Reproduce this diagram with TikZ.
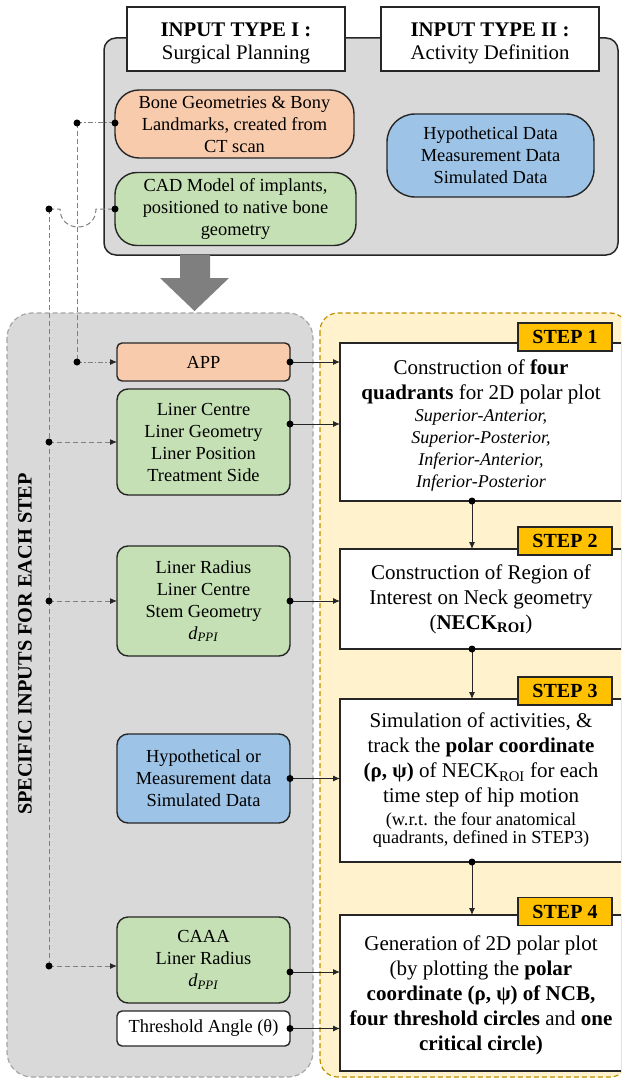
\documentclass[tikz,border=0pt]{standalone}
\usepackage{fontspec}
\setmainfont{Liberation Serif}
\usetikzlibrary{arrows.meta,calc}
\definecolor{corange}{HTML}{F8CBAD}
\definecolor{cgreen}{HTML}{C5E0B4}
\definecolor{cblue}{HTML}{9DC3E6}
\definecolor{boxgrey}{HTML}{D9D9D9}
\definecolor{cyellow}{HTML}{FFF2CC}
\definecolor{cstep}{HTML}{FFC000}
\definecolor{cgold}{HTML}{BF9000}
\definecolor{cline}{HTML}{808080}
\definecolor{cdark}{HTML}{7F7F7F}
\definecolor{cborder}{HTML}{A6A6A6}
\definecolor{cink}{HTML}{262626}
\newcommand\fL{\fontsize{18.4}{22}\selectfont}
\newcommand\fS{\fontsize{21}{25}\selectfont}
\newcommand\fH{\fontsize{20.8}{23}\selectfont}
\newcommand\fT{\fontsize{20}{24}\selectfont}
\newcommand\fR{\fontsize{20.3}{24}\selectfont}
\newcommand\fI{\fontsize{18}{22}\selectfont}
\newcommand\fQ{\fontsize{18.3}{18}\selectfont}
\newcommand\dppi{\textit{d}\textsubscript{\textit{PPI}}}
\begin{document}
\begin{tikzpicture}[x=1pt,y=-1pt,
  every node/.style={inner sep=0pt, outer sep=0pt, text=black},
  lb/.style={draw=cink, line width=1.4pt, align=center, font=\fL, minimum width=173pt},
  tb/.style={draw=cink, line width=1.4pt, align=center, font=\fL},
  hdr/.style={draw=cink, line width=1.2pt, fill=white, minimum width=218pt, minimum height=64pt},
  hdrtext/.style={align=center, font=\fH},
  stepbox/.style={draw=cink, line width=1.4pt, fill=white, align=center, font=\fS, minimum width=282pt},
  steplabel/.style={draw=cink, line width=1.2pt, fill=cstep, font=\fT\bfseries, minimum width=94pt, minimum height=28pt},
  lgrey/.style={draw=cline, line width=1pt},
  dsh/.style={dash pattern=on 5pt off 3pt},
  dshdot/.style={dash pattern=on 5pt off 2pt on 1.5pt off 2pt},
  tip/.style={-{Latex[length=7pt,width=6pt,color=cink]}},
  rc/.style={draw=cink, line width=0.9pt, -{Latex[length=7pt,width=6pt]}},
  dot/.style={fill=black}
]
\useasboundingbox (0,0) rectangle (621,1078);
\clip (0,0) rectangle (621,1078);

% regions
\draw[draw=cborder, line width=1.2pt, dsh, fill=boxgrey, rounded corners=25pt] (7,313) rectangle (313,1077);
\draw[draw=cgold, line width=1.2pt, dsh, fill=cyellow, rounded corners=18pt] (320,313) rectangle (628,1077);
\draw[draw=cink, line width=1.5pt, fill=boxgrey, rounded corners=12pt] (104,38) rectangle (618,255);

% big arrow
\fill[cdark] (180,255) -- (210,255) -- (210,278) -- (229,278) -- (194.5,311) -- (160,278) -- (180,278) -- cycle;

% headers
\node[hdr] (h1) at (236,39) {};
\node[hdrtext] (h1t) at (236,43.5) {\textbf{INPUT TYPE I :}\\Surgical Planning};
\node[hdr] (h2) at (490,39) {};
\node[hdrtext] (h2t) at (490,43.5) {\textbf{INPUT TYPE II :}\\Activity Definition};

% top boxes
\node[tb, fill=corange, rounded corners=24pt, minimum width=239pt, minimum height=68pt] (tb1) at (234.5,124) {Bone Geometries \& Bony\\Landmarks, created from\\CT scan};
\node[tb, fill=cgreen, rounded corners=22pt, minimum width=241pt, minimum height=73pt] (tb2) at (235.5,209) {CAD Model of implants,\\positioned to native bone\\geometry};
\node[tb, fill=cblue, rounded corners=28pt, minimum width=207pt, minimum height=83pt] (tb3) at (490.5,155.5) {Hypothetical Data\\Measurement Data\\Simulated Data};

% left column boxes
\node[lb, fill=corange, rounded corners=5pt, minimum height=38pt] (app) at (203.5,362) {APP};
\node[lb, fill=cgreen, rounded corners=11pt, minimum height=106pt] (l2) at (203.5,442) {Liner Centre\\Liner Geometry\\Liner Position\\Treatment Side};
\node[lb, fill=cgreen, rounded corners=11pt, minimum height=110pt] (l3) at (203.5,601) {Liner Radius\\Liner Centre\\Stem Geometry\\\dppi};
\node[lb, fill=cblue, rounded corners=11pt, minimum height=89pt] (l4) at (203.5,778.5) {Hypothetical or\\Measurement data\\Simulated Data};
\node[lb, fill=cgreen, rounded corners=11pt, minimum height=86pt] (l5) at (203.5,960) {CAAA\\Liner Radius\\\dppi};
\node[lb, fill=white, rounded corners=5pt, minimum height=35pt] (l6) at (203.5,1028.5) {Threshold Angle (θ)};

\node[rotate=90, font=\fR\bfseries] (side) at (25,644) {SPECIFIC INPUTS FOR EACH STEP};

% step boxes
\node[stepbox, minimum height=158pt] (s1) at (481,422) {};
\node[align=center, font=\fS] (s1t) at (481,426) {Construction of \textbf{four}\\\textbf{quadrants} for 2D polar plot\\[-3pt]{\fI\itshape Superior-Anterior,}\\[-3pt]{\fI\itshape Superior-Posterior,}\\[-3pt]{\fI\itshape Inferior-Anterior,}\\[-3pt]{\fI\itshape Inferior-Posterior}};
\node[stepbox, minimum height=100pt] (s2) at (481,599) {Construction of Region of\\Interest on Neck geometry\\(\textbf{NECK\textsubscript{ROI}})};
\node[stepbox, minimum height=163pt] (s3) at (481,780.5) {Simulation of activities, \&\\track the \textbf{polar coordinate}\\\textbf{(ρ, ψ)} of NECK\textsubscript{ROI} for each\\time step of hip motion\\[-2pt]{\fQ (w.r.t. the four anatomical}\\[-7pt]{\fQ quadrants, defined in STEP3)}};
\node[stepbox, minimum height=156pt] (s4) at (481,993) {};
\node[align=center, font=\fS] (s4t) at (481,995.5) {Generation of 2D polar plot\\(by plotting the \textbf{polar}\\\textbf{coordinate (ρ, ψ) of NCB,}\\\textbf{four threshold circles} and \textbf{one}\\\textbf{critical circle)}};

\node[steplabel] (t1) at (565,337) {STEP 1};
\node[steplabel] (t2) at (565,541) {STEP 2};
\node[steplabel] (t3) at (565,691) {STEP 3};
\node[steplabel] (t4) at (565,911.5) {STEP 4};

% left connectors
\coordinate (a0) at (77,123);
\coordinate (a1) at (77,362);
\coordinate (b0) at (49,209);
\coordinate (b1) at (49,442);
\coordinate (b2) at (49,601);
\coordinate (b3) at (49,966);
\draw[lgrey, dshdot] (a0) -- (tb1.west |- a0);
\draw[lgrey, dsh] (a0) -- (a1);
\draw[lgrey, dshdot, tip] (a1) -- (app.west);
\draw[lgrey, dsh] (b0) -- (60,209) .. controls (60,233) and (96,233) .. (96,209) -- (tb2.west |- b0);
\draw[lgrey, dsh] (b0) -- (b3);
\draw[lgrey, dsh, tip] (b1) -- (l2.west);
\draw[lgrey, dsh, tip] (b2) -- (l3.west);
\draw[lgrey, dsh, tip] (b3) -- (l5.west |- b3);
\foreach \p in {a0,a1,b0,b1,b2,b3} \fill[dot] (\p) circle[radius=3.5pt];
\fill[dot] (tb1.west |- a0) circle[radius=3.5pt];
\fill[dot] (tb2.west |- b0) circle[radius=3.5pt];

% right connectors
\coordinate (y2) at (0,424);
\coordinate (y5) at (0,972);
\draw[rc] (app.east) -- (s1.west |- app.east);
\draw[rc] (l2.east |- y2) -- (s1.west |- y2);
\draw[rc] (l3.east) -- (s2.west |- l3.east);
\draw[rc] (l4.east) -- (s3.west |- l4.east);
\draw[rc] (l5.east |- y5) -- (s4.west |- y5);
\draw[rc] (l6.east) -- (s4.west |- l6.east);
\foreach \p in {app.east, l3.east, l4.east, l6.east} \fill[dot] (\p) circle[radius=3.5pt];
\fill[dot] (l2.east |- y2) circle[radius=3.5pt];
\fill[dot] (l5.east |- y5) circle[radius=3.5pt];

% step connectors
\coordinate (vx) at (472,0);
\draw[rc] (s1.south -| vx) -- (s2.north -| vx);
\draw[rc] (s2.south -| vx) -- (s3.north -| vx);
\draw[rc] (s3.south -| vx) -- (s4.north -| vx);
\foreach \p in {s1,s2,s3} \fill[dot] (\p.south -| vx) circle[radius=3.5pt];
\end{tikzpicture}
\end{document}
